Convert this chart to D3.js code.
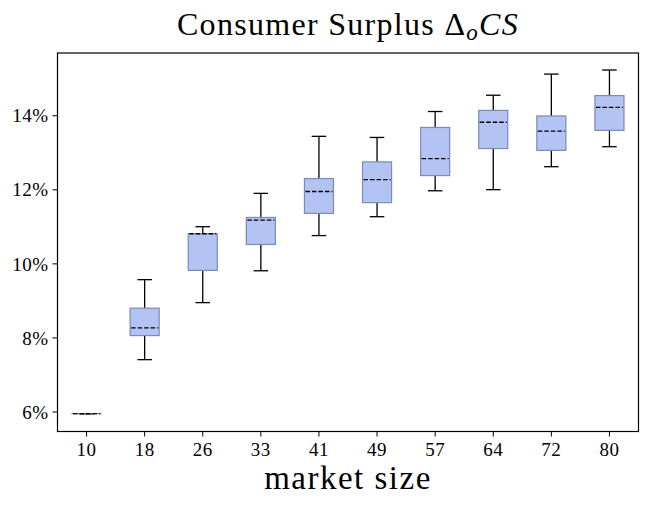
<!DOCTYPE html>
<meta charset="utf-8">
<style>
body { margin: 0; background: #fff; }
text { font-family: "Liberation Serif", "DejaVu Serif", serif; fill: #000; }
.box { fill: #b3c3f3; stroke: #7c8bb3; stroke-width: 1.2; }
.whisker, .cap { stroke: #000; stroke-width: 1.3; }
.median { stroke: #000; stroke-width: 1.3; stroke-dasharray: 4.5 2; }
</style>
<svg width="648" height="505"></svg>
<script src="https://cdn.jsdelivr.net/npm/d3@7/dist/d3.min.js"></script>
<script>

// market sizes and box statistics (percent)
var sizes  = ["10", "18", "26", "33", "41", "49", "57", "64", "72", "80"];
var whiskLo = [5.94, 7.40, 8.94, 9.80, 10.75, 11.26, 11.96, 11.99, 12.61, 13.15];
var q1      = [5.94, 8.05, 9.81, 10.51, 11.35, 11.64, 12.37, 13.10, 13.05, 13.59];
var medians = [5.94, 8.26, 10.80, 11.17, 11.94, 12.26, 12.83, 13.81, 13.57, 14.21];
var q3      = [5.94, 8.79, 10.80, 11.24, 12.29, 12.74, 13.67, 14.13, 13.98, 14.53];
var whiskHi = [5.94, 9.56, 10.99, 11.89, 13.43, 13.40, 14.10, 14.54, 15.11, 15.22];
var yTicks  = [6, 8, 10, 12, 14];

var svg = d3.select("svg");
var mLeft = 57.5, mRight = 638.5, mTop = 53, mBottom = 431.5;

var data = sizes.map(function(s, i) {
  return {size: s, lo: whiskLo[i], q1: q1[i], med: medians[i], q3: q3[i], hi: whiskHi[i]};
});

var x = d3.scaleBand()
    .domain(sizes)
    .range([mLeft, mRight]);

var y = d3.scaleLinear()
    .domain([5.46, 15.68])
    .range([mBottom, mTop]);

var boxW = x.bandwidth() * 0.5,
    capW = boxW * 0.5;

// axes
var xAxis = svg.append("g")
    .attr("transform", "translate(0," + mBottom + ")")
    .call(d3.axisBottom(x).tickSize(5).tickPadding(4));

var yAxis = svg.append("g")
    .attr("transform", "translate(" + mLeft + ",0)")
    .call(d3.axisLeft(y).tickValues(yTicks).tickSize(5).tickPadding(4)
      .tickFormat(function(d) { return d + "%"; }));

[xAxis, yAxis].forEach(function(a) {
  a.select(".domain").remove();
  a.selectAll(".tick line").attr("stroke", "#000").attr("stroke-width", 1);
  a.selectAll("text").attr("font-size", 19).attr("font-family", "Liberation Serif")
    .attr("letter-spacing", 0.5);
});
yAxis.selectAll("text").attr("dy", "0.35em");
xAxis.selectAll("text").attr("dy", "0.8em");

// frame
svg.append("rect")
    .attr("x", mLeft).attr("y", mTop)
    .attr("width", mRight - mLeft).attr("height", mBottom - mTop)
    .attr("fill", "none").attr("stroke", "#000").attr("stroke-width", 1.2);

var g = svg.append("g").selectAll("g")
  .data(data)
  .enter().append("g")
    .attr("transform", function(d) { return "translate(" + (x(d.size) + x.bandwidth() / 2) + ",0)"; });

g.append("line").attr("class", "whisker")
    .attr("y1", function(d) { return y(d.hi); })
    .attr("y2", function(d) { return y(d.q3); });
g.append("line").attr("class", "whisker")
    .attr("y1", function(d) { return y(d.lo); })
    .attr("y2", function(d) { return y(d.q1); });

g.append("line").attr("class", "cap")
    .attr("x1", -capW / 2).attr("x2", capW / 2)
    .attr("y1", function(d) { return y(d.hi); })
    .attr("y2", function(d) { return y(d.hi); });
g.append("line").attr("class", "cap")
    .attr("x1", -capW / 2).attr("x2", capW / 2)
    .attr("y1", function(d) { return y(d.lo); })
    .attr("y2", function(d) { return y(d.lo); });

g.append("rect").attr("class", "box")
    .attr("x", -boxW / 2)
    .attr("width", boxW)
    .attr("y", function(d) { return y(d.q3); })
    .attr("height", function(d) { return Math.max(0.01, y(d.q1) - y(d.q3)); });

g.append("line").attr("class", "median")
    .attr("x1", -boxW / 2 + 1).attr("x2", boxW / 2 - 1)
    .attr("y1", function(d) { return y(d.med); })
    .attr("y2", function(d) { return y(d.med); });

// title
var title = svg.append("text")
    .attr("x", (mLeft + mRight) / 2)
    .attr("y", 35)
    .attr("text-anchor", "middle")
    .attr("font-size", 32)
    .attr("letter-spacing", 1.3);
title.append("tspan").text("Consumer Surplus Δ");
title.append("tspan").attr("font-style", "italic").attr("font-size", 23).attr("dy", 5).text("o");
title.append("tspan").attr("font-style", "italic").attr("dy", -5).text("CS");

svg.append("text")
    .attr("x", (mLeft + mRight) / 2)
    .attr("y", 489)
    .attr("text-anchor", "middle")
    .attr("font-size", 33)
    .attr("letter-spacing", 1.5)
    .text("market size");

</script>
